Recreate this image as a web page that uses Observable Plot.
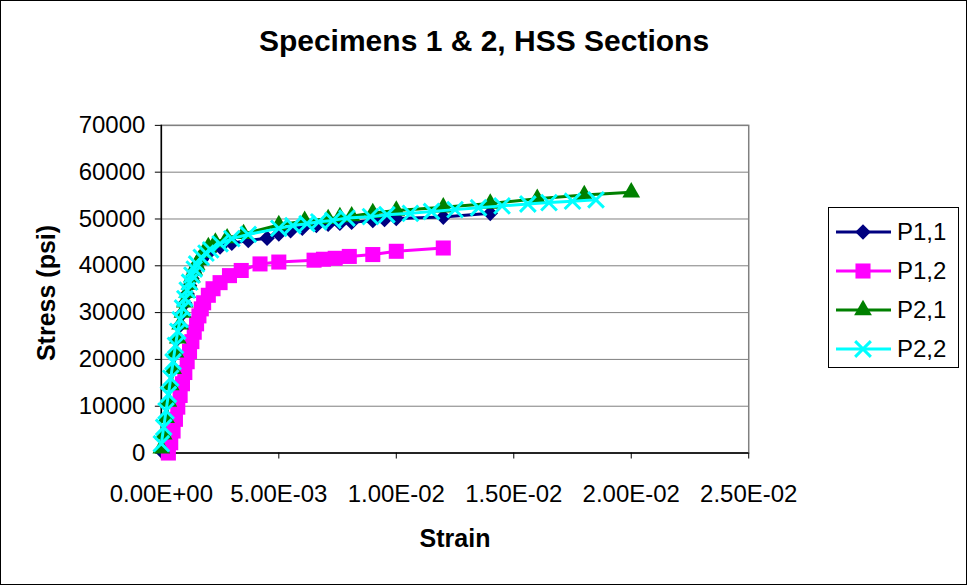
<!DOCTYPE html>
<html>
<head>
<meta charset="utf-8">
<script src="https://cdn.jsdelivr.net/npm/d3@7"></script>
<script src="https://cdn.jsdelivr.net/npm/@observablehq/plot@0.6"></script>
<style>
  html, body { margin: 0; padding: 0; background: #fff; }
  #chart { position: relative; width: 967px; height: 585px; box-sizing: border-box; border: 1px solid #000; overflow: hidden; font-family: "Liberation Sans", Arial, sans-serif; }
  #plot { position: absolute; left: -1px; top: -1px; }
  .lbl { position: absolute; font-weight: bold; color: #000; white-space: nowrap; line-height: 1; transform: translate(-50%, -50%); }
  #legend { position: absolute; left: 827px; top: 206px; width: 131px; height: 161px; border: 1px solid #000; background: #fff; box-sizing: border-box; }
  .entry { position: absolute; left: 0; height: 30px; width: 131px; }
  .entry svg { position: absolute; left: 6px; top: 0; }
  .entry span { position: absolute; left: 68px; top: 3px; font-size: 24px; line-height: 24px; }
</style>
</head>
<body>
<div id="chart">
  <div id="plot"></div>
  <div class="lbl" style="left:483px; top:40px; font-size:30px;">Specimens 1 &amp; 2, HSS Sections</div>
  <div class="lbl" style="left:454px; top:537px; font-size:25px;">Strain</div>
  <div class="lbl" style="left:45px; top:292px; font-size:25px; transform: translate(-50%, -50%) rotate(-90deg);">Stress (psi)</div>
  <div id="legend"></div>
</div>
<script>
// ---- Data ----
const seriesNames = ["P1,1", "P1,2", "P2,1", "P2,2"];

const p11Strain = [0, 0.0001, 0.0002, 0.0003, 0.0004, 0.0005, 0.0006, 0.0007, 0.0008, 0.0009, 0.0010, 0.0011, 0.0012, 0.0013, 0.0014, 0.0015, 0.0017, 0.0019, 0.0021, 0.0025, 0.0030, 0.0037, 0.0045, 0.0050, 0.0055, 0.0060, 0.0066, 0.0071, 0.0076, 0.0081, 0.0090, 0.0095, 0.0100, 0.0120, 0.0140];
const p11Stress = [500, 4000, 7500, 11000, 14500, 18000, 21300, 24500, 27300, 29800, 32000, 34000, 35800, 37300, 38600, 39700, 41300, 42400, 43200, 44000, 44800, 45400, 45900, 46800, 47500, 48000, 48600, 48900, 49100, 49300, 49700, 49900, 50100, 50400, 51200];

const p12Strain = [0.0003, 0.0004, 0.0005, 0.0006, 0.0007, 0.0008, 0.0009, 0.0010, 0.0011, 0.0012, 0.0013, 0.0014, 0.0015, 0.0016, 0.0017, 0.0018, 0.0020, 0.0022, 0.0025, 0.0029, 0.0034, 0.0042, 0.0050, 0.0065, 0.0069, 0.0074, 0.0080, 0.0090, 0.0100, 0.0120];
const p12Stress = [0, 2200, 4700, 7200, 9800, 12300, 14800, 17200, 19500, 21700, 23800, 25800, 27600, 29300, 30800, 32100, 33700, 35100, 36400, 37900, 39000, 40400, 40800, 41200, 41400, 41600, 42000, 42400, 43100, 43800];

const p21Strain = [0, 0.0001, 0.0002, 0.0003, 0.0004, 0.0005, 0.0006, 0.0007, 0.0008, 0.0009, 0.0010, 0.0011, 0.0012, 0.0013, 0.0014, 0.0015, 0.0016, 0.0018, 0.0020, 0.0023, 0.0028, 0.0035, 0.0050, 0.0061, 0.0071, 0.0076, 0.0081, 0.0090, 0.0100, 0.0120, 0.0140, 0.0160, 0.0180, 0.0200];
const p21Stress = [1000, 4000, 7500, 11000, 14500, 18000, 21500, 24500, 27500, 30000, 32200, 34200, 36000, 37600, 39000, 40200, 41200, 42800, 44000, 45000, 45900, 46800, 48700, 49600, 50000, 50400, 50600, 51300, 51800, 52500, 53300, 54300, 55100, 55700];

const p22Strain = [0, 0.0001, 0.0002, 0.0003, 0.0004, 0.0005, 0.0006, 0.0007, 0.0008, 0.0009, 0.0010, 0.0011, 0.0012, 0.0013, 0.0014, 0.0015, 0.0017, 0.0019, 0.0021, 0.0025, 0.0030, 0.0037, 0.0050, 0.0056, 0.0062, 0.0067, 0.0073, 0.0079, 0.0089, 0.0096, 0.0106, 0.0115, 0.0125, 0.0135, 0.0145, 0.0156, 0.0165, 0.0175, 0.0185];
const p22Stress = [2000, 5500, 9000, 12500, 16000, 19500, 23000, 26000, 28500, 31000, 33000, 34800, 36500, 38000, 39300, 40400, 41800, 42700, 43400, 44700, 45800, 46700, 48000, 48600, 49000, 49400, 49700, 50200, 50500, 50900, 51200, 51600, 52000, 52400, 52800, 53200, 53500, 53800, 54100];

const xTicks = [0, 0.005, 0.01, 0.015, 0.02, 0.025];
const yTicks = [0, 10000, 20000, 30000, 40000, 50000, 60000, 70000];

// ---- Styles ----
const seriesColors = ["#000080", "#FF00FF", "#008000", "#00FFFF"];
const seriesSymbols = ["diamond2", "square", "triangle", "times"];
const seriesR = [7, 8.5, 6.6, 7.2];

const table = (xs, ys, name) => xs.map((x, i) => ({strain: x, stress: ys[i], series: name}));
const allSeries = [
  table(p11Strain, p11Stress, seriesNames[0]),
  table(p12Strain, p12Stress, seriesNames[1]),
  table(p21Strain, p21Stress, seriesNames[2]),
  table(p22Strain, p22Stress, seriesNames[3])
];

function sci(d) {
  const [m, e] = d.toExponential(2).split("e");
  const sign = e[0] === "-" ? "-" : "+";
  const digits = e.replace(/[+-]/, "").padStart(2, "0");
  return `${m}E${sign}${digits}`;
}

const seriesMarks = allSeries.flatMap((data, i) => {
  const isStroke = seriesSymbols[i] === "times";
  return [
    Plot.line(data, {x: "strain", y: "stress", stroke: seriesColors[i], strokeWidth: 3}),
    Plot.dot(data, isStroke
      ? {x: "strain", y: "stress", symbol: seriesSymbols[i], r: seriesR[i], stroke: seriesColors[i], strokeWidth: 3, fill: "none"}
      : {x: "strain", y: "stress", symbol: seriesSymbols[i], r: seriesR[i], fill: seriesColors[i], stroke: "none"})
  ];
});

const chart = Plot.plot({
  width: 967,
  height: 585,
  marginLeft: 161,
  marginRight: 218,
  marginTop: 125,
  marginBottom: 132,
  style: {fontFamily: "'Liberation Sans', Arial, sans-serif", fontSize: "24px", color: "#000", background: "#fff"},
  x: {domain: [0, 0.025]},
  y: {domain: [0, 70000]},
  marks: [
    Plot.gridY(yTicks, {stroke: "#808080", strokeOpacity: 1, strokeWidth: 1}),
    Plot.frame({stroke: "#808080", strokeWidth: 1.5}),
    Plot.axisX(xTicks, {tickSize: 6, tickPadding: 26, tickFormat: sci, fontSize: 24, label: null, stroke: "#000"}),
    Plot.axisY(yTicks, {tickSize: 6, tickPadding: 10, tickFormat: d => String(d), fontSize: 24, label: null, stroke: "#000"}),
    Plot.ruleX([0], {stroke: "#000", strokeWidth: 1.5}),
    Plot.ruleY([0], {stroke: "#000", strokeWidth: 1.5}),
    ...seriesMarks
  ]
});
document.getElementById("plot").appendChild(chart);

// ---- Legend ----
const legend = document.getElementById("legend");
const rowTops = [9, 48, 87, 126];
seriesNames.forEach((name, i) => {
  const row = document.createElement("div");
  row.className = "entry";
  row.style.top = rowTops[i] + "px";
  const svg = d3.create("svg").attr("width", 58).attr("height", 30);
  svg.append("line").attr("x1", 1).attr("x2", 56).attr("y1", 15).attr("y2", 15)
    .attr("stroke", seriesColors[i]).attr("stroke-width", 3);
  const symMap = {diamond2: d3.symbolDiamond2, square: d3.symbolSquare, triangle: d3.symbolTriangle, times: d3.symbolTimes};
  const path = svg.append("path")
    .attr("transform", "translate(28,15)")
    .attr("d", d3.symbol(symMap[seriesSymbols[i]], Math.PI * seriesR[i] * seriesR[i])());
  if (seriesSymbols[i] === "times") path.attr("fill", "none").attr("stroke", seriesColors[i]).attr("stroke-width", 3);
  else path.attr("fill", seriesColors[i]);
  row.appendChild(svg.node());
  const span = document.createElement("span");
  span.textContent = name;
  row.appendChild(span);
  legend.appendChild(row);
});
</script>
</body>
</html>
